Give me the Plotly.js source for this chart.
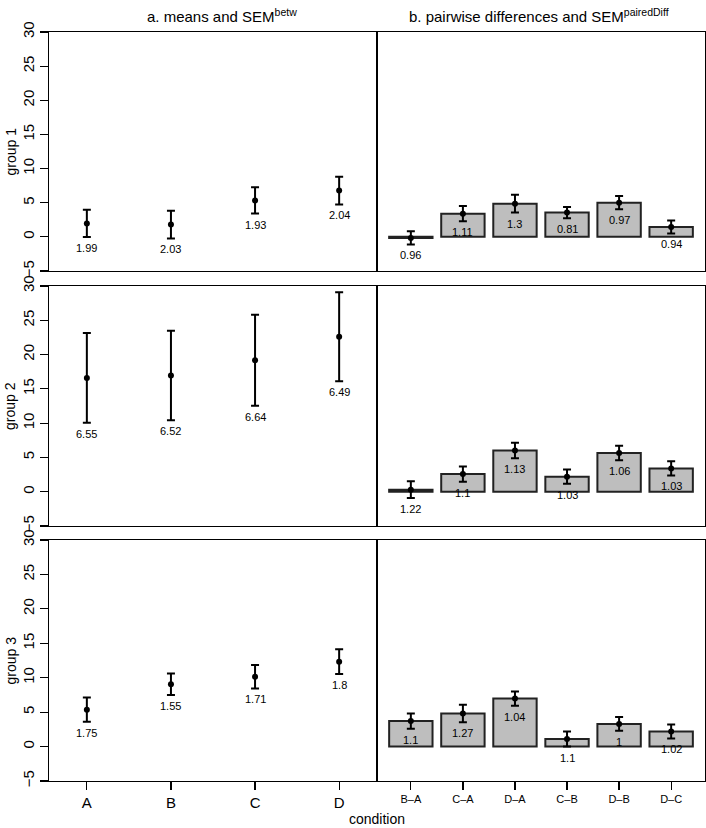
<!DOCTYPE html>
<html>
<head>
<meta charset="utf-8">
<script src="https://cdn.plot.ly/plotly-3.0.1.min.js"></script>
<style>html,body{margin:0;padding:0;background:#fff;}#chart{width:706px;height:828px;}</style>
</head>
<body>
<div id="chart"></div>
<script>
// ---- data ----
const conditions = ['A', 'B', 'C', 'D'];
const pairs = ['B–A', 'C–A', 'D–A', 'C–B', 'D–B', 'D–C'];
const groupNames = ['group 1', 'group 2', 'group 3'];

const g1Means = [1.97, 1.80, 5.34, 6.78];
const g1Sem   = [1.99, 2.03, 1.93, 2.04];
const g2Means = [16.60, 16.95, 19.17, 22.60];
const g2Sem   = [6.55, 6.52, 6.64, 6.49];
const g3Means = [5.36, 9.05, 10.15, 12.33];
const g3Sem   = [1.75, 1.55, 1.71, 1.80];

const g1Diff    = [-0.15, 3.40, 4.85, 3.55, 5.00, 1.44];
const g1DiffSem = [0.96, 1.11, 1.3, 0.81, 0.97, 0.94];
const g2Diff    = [0.30, 2.57, 6.00, 2.20, 5.65, 3.40];
const g2DiffSem = [1.22, 1.1, 1.13, 1.03, 1.06, 1.03];
const g3Diff    = [3.70, 4.80, 6.97, 1.10, 3.28, 2.20];
const g3DiffSem = [1.1, 1.27, 1.04, 1.1, 1, 1.02];

const yTicks = [-5, 0, 5, 10, 15, 20, 25, 30];

const means = [g1Means, g2Means, g3Means];
const sems = [g1Sem, g2Sem, g3Sem];
const diffs = [g1Diff, g2Diff, g3Diff];
const diffSems = [g1DiffSem, g2DiffSem, g3DiffSem];

// ---- layout geometry (pixels) ----
const W = 706, H = 828;
const colPx = [[49, 377], [377, 705]];
const rowPx = [[32, 271], [286, 526], [540, 781]];
const FONT = '"Liberation Sans", Arial, Helvetica, sans-serif';

const traces = [];
const annotations = [];
const layout = {
  width: W, height: H,
  margin: {l: 0, r: 0, t: 0, b: 0},
  paper_bgcolor: '#fff', plot_bgcolor: '#fff',
  showlegend: false,
  font: {family: FONT, color: '#000', size: 14},
  annotations: annotations
};

for (let r = 0; r < 3; r++) {
  for (let c = 0; c < 2; c++) {
    const k = r * 2 + c + 1;
    const xa = 'x' + (k === 1 ? '' : k), ya = 'y' + (k === 1 ? '' : k);
    const xKey = 'xaxis' + (k === 1 ? '' : k), yKey = 'yaxis' + (k === 1 ? '' : k);
    const bottom = (r === 2);
    const cats = c === 0 ? conditions : pairs;
    layout[xKey] = {
      domain: [colPx[c][0] / W, colPx[c][1] / W],
      anchor: ya,
      type: 'category',
      categoryorder: 'array', categoryarray: cats,
      range: c === 0 ? [-0.45, 3.45] : [-0.65, 5.65],
      showgrid: false, zeroline: false,
      showline: true, mirror: true, linecolor: '#000', linewidth: 1.2,
      ticks: bottom ? 'outside' : '', ticklen: 8, tickwidth: 1.2, tickcolor: '#000',
      showticklabels: bottom,
      tickfont: {family: FONT, size: c === 0 ? 15 : 11, color: '#000'},
      fixedrange: true
    };
    layout[yKey] = {
      domain: [1 - rowPx[r][1] / H, 1 - rowPx[r][0] / H],
      anchor: xa,
      range: [-5, 30],
      showgrid: false, zeroline: false,
      showline: true, mirror: true, linecolor: '#000', linewidth: 1.2,
      ticks: c === 0 ? 'outside' : '', ticklen: 8, tickwidth: 1.2, tickcolor: '#000',
      tickmode: 'array', tickvals: yTicks,
      showticklabels: c === 0,
      tickangle: -90,
      tickfont: {family: FONT, size: 15, color: '#000'},
      fixedrange: true
    };

    if (c === 0) {
      traces.push({
        type: 'scatter', mode: 'markers', xaxis: xa, yaxis: ya,
        x: conditions, y: means[r],
        marker: {color: '#000', size: 6},
        error_y: {type: 'data', array: sems[r], visible: true, color: '#000', thickness: 2, width: 4},
        hoverinfo: 'skip'
      });
      conditions.forEach((cat, i) => {
        annotations.push({
          xref: xa, yref: ya, x: cat, y: means[r][i] - sems[r][i],
          text: String(sems[r][i]), showarrow: false,
          xanchor: 'center', yanchor: 'top', yshift: -3,
          font: {family: FONT, size: 11, color: '#000'}
        });
      });
    } else {
      traces.push({
        type: 'bar', xaxis: xa, yaxis: ya,
        x: pairs, y: diffs[r], width: 1 / 1.2,
        marker: {color: '#bebebe', line: {color: '#222', width: 2}},
        hoverinfo: 'skip'
      });
      traces.push({
        type: 'scatter', mode: 'markers', xaxis: xa, yaxis: ya,
        x: pairs, y: diffs[r],
        marker: {color: '#000', size: 6},
        error_y: {type: 'data', array: diffSems[r], visible: true, color: '#000', thickness: 2, width: 4},
        hoverinfo: 'skip'
      });
      pairs.forEach((cat, i) => {
        annotations.push({
          xref: xa, yref: ya, x: cat, y: diffs[r][i] - diffSems[r][i],
          text: String(diffSems[r][i]), showarrow: false,
          xanchor: 'center', yanchor: 'top', yshift: -3,
          font: {family: FONT, size: 11, color: '#000'}
        });
      });
    }
  }
  // row label
  annotations.push({
    xref: 'paper', yref: 'paper',
    x: 10 / W, y: 1 - ((rowPx[r][0] + rowPx[r][1]) / 2) / H,
    text: groupNames[r], textangle: -90, showarrow: false,
    xanchor: 'center', yanchor: 'middle',
    font: {family: FONT, size: 14, color: '#000'}
  });
}

// column titles
annotations.push({
  xref: 'paper', yref: 'paper', x: 222 / W, y: 1 - 4 / H,
  text: 'a. means and SEM<sup>betw</sup>', showarrow: false,
  xanchor: 'center', yanchor: 'top',
  font: {family: FONT, size: 15, color: '#000'}
});
annotations.push({
  xref: 'paper', yref: 'paper', x: 539 / W, y: 1 - 4 / H,
  text: 'b. pairwise differences and SEM<sup>pairedDiff</sup>', showarrow: false,
  xanchor: 'center', yanchor: 'top',
  font: {family: FONT, size: 15, color: '#000'}
});
// x axis label
annotations.push({
  xref: 'paper', yref: 'paper', x: 377 / W, y: 1 - 819 / H,
  text: 'condition', showarrow: false,
  xanchor: 'center', yanchor: 'middle',
  font: {family: FONT, size: 14, color: '#000'}
});

Plotly.newPlot('chart', traces, layout, {staticPlot: true, displayModeBar: false});
</script>
</body>
</html>
